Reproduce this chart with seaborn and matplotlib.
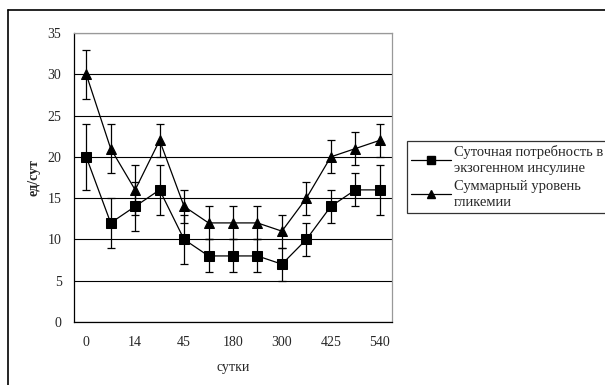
import numpy as np
import pandas as pd
import seaborn as sns
import matplotlib.pyplot as plt
from matplotlib.lines import Line2D

# дни наблюдения (подписи показаны через одну)
days = ['0', '7', '14', '30', '45', '90', '180', '240', '300', '365', '425', '480', '540']

insulin = [20, 12, 14, 16, 10, 8, 8, 8, 7, 10, 14, 16, 16]
insulin_err = [4, 3, 3, 3, 3, 2, 2, 2, 2, 2, 2, 2, 3]

glycemia = [30, 21, 16, 22, 14, 12, 12, 12, 11, 15, 20, 21, 22]
glycemia_err = [3, 3, 3, 2, 2, 2, 2, 2, 2, 2, 2, 2, 2]

label_ins = 'Суточная потребность в\nэкзогенном инсулине'
label_gly = 'Суммарный уровень\nгликемии'

sns.set_style('white')
plt.rcParams['font.family'] = ['Liberation Serif', 'DejaVu Serif']
plt.rcParams['font.size'] = 10

idx = np.arange(len(days))
df = pd.DataFrame({'idx': np.concatenate([idx, idx]),
                   'value': insulin + glycemia,
                   'series': [label_ins] * len(days) + [label_gly] * len(days)})

fig = plt.figure(figsize=(6.05, 3.85), dpi=100)
ax = fig.add_axes([74 / 605, 1 - 322 / 385, (392 - 74) / 605, (322 - 33) / 385])

# внешняя рамка (видны только верх и левая сторона)
fig.add_artist(Line2D([8 / 605, 1.0], [1 - 10 / 385, 1 - 10 / 385], color='black', lw=1.2))
fig.add_artist(Line2D([8 / 605, 8 / 605], [0, 1 - 10 / 385], color='black', lw=1.2))

ax.errorbar(idx, insulin, yerr=insulin_err, fmt='none', ecolor='black',
            elinewidth=0.9, capsize=3, capthick=0.9, zorder=3)
ax.errorbar(idx, glycemia, yerr=glycemia_err, fmt='none', ecolor='black',
            elinewidth=0.9, capsize=3, capthick=0.9, zorder=3)

sns.lineplot(data=df, x='idx', y='value', hue='series', style='series',
             palette=['black', 'black'], markers=['s', '^'], dashes=False,
             markersize=7.5, markeredgecolor='black', linewidth=0.9,
             legend=False, ax=ax, zorder=4)

ax.set_xlim(-0.5, len(days) - 0.5)
ax.set_ylim(0, 35)
ax.set_yticks(range(0, 36, 5))
ax.yaxis.grid(True, color='black', linewidth=0.8)
ax.set_axisbelow(True)

ax.set_xticks(idx[::2])
ax.set_xticklabels(days[::2])
ax.set_xticks(np.arange(-0.5, len(days) - 1, 2), minor=True)
ax.tick_params(axis='x', which='major', length=0, pad=10, labelsize=10)
ax.tick_params(axis='x', which='minor', length=3, direction='out', width=0.8, color='black')
ax.tick_params(axis='y', length=4, direction='out', width=0.8, color='black', pad=5, labelsize=10)

for s in ['left', 'bottom']:
    ax.spines[s].set_color('black')
    ax.spines[s].set_linewidth(0.9)
for s in ['top', 'right']:
    ax.spines[s].set_color('#999999')
    ax.spines[s].set_linewidth(0.9)

ax.set_xlabel('сутки', fontsize=10, labelpad=9)
ax.set_ylabel('ед/сут', fontsize=10, fontweight='bold', labelpad=5)

handles = [Line2D([], [], color='black', lw=0.9, marker='s', markersize=5.5),
           Line2D([], [], color='black', lw=0.9, marker='^', markersize=6)]
leg = fig.legend(handles, [label_ins, label_gly], loc='upper left',
                 bbox_to_anchor=(407 / 605, 1 - 141 / 385), borderaxespad=0,
                 frameon=True, fancybox=False, edgecolor='black', fontsize=10.5,
                 handlelength=2.7, handletextpad=0.2, labelspacing=0.3,
                 borderpad=0.3)
leg.get_frame().set_linewidth(0.9)
for t in leg.get_texts():
    t.set_linespacing(1.3)

plt.savefig('out.png', dpi=100)
